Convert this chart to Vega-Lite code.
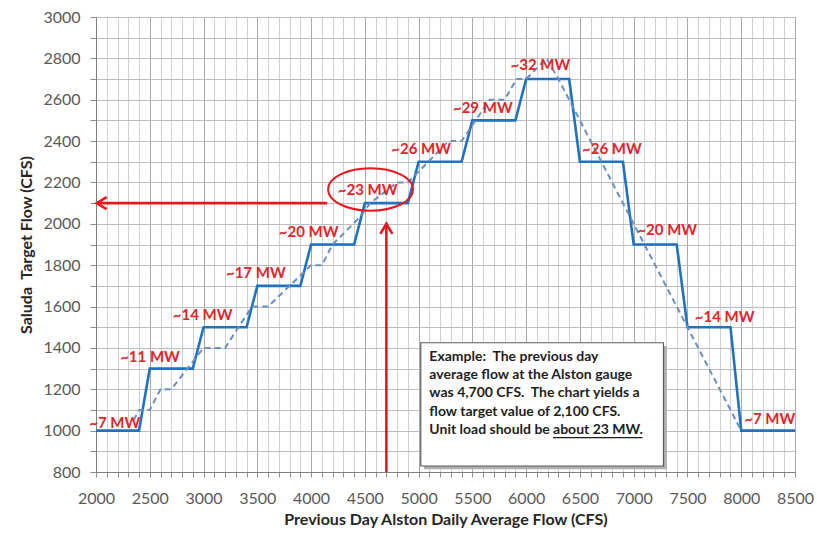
{
  "$schema": "https://vega.github.io/schema/vega-lite/v6.json",
  "width": 699,
  "height": 455,
  "autosize": "none",
  "padding": {"left": 96, "top": 17, "right": 22, "bottom": 74},
  "background": "white",
  "config": {"view": {"stroke": "#a6a6a6", "strokeWidth": 1}, "font": "Lato"},
  "datasets": {
    "step": [
      {"x":2000,"y":1000},{"x":2400,"y":1000},{"x":2500,"y":1300},{"x":2900,"y":1300},{"x":3000,"y":1500},{"x":3400,"y":1500},{"x":3500,"y":1700},{"x":3900,"y":1700},{"x":4000,"y":1900},{"x":4400,"y":1900},{"x":4500,"y":2100},{"x":4900,"y":2100},{"x":5000,"y":2300},{"x":5400,"y":2300},{"x":5500,"y":2500},{"x":5900,"y":2500},{"x":6000,"y":2700},{"x":6400,"y":2700},{"x":6500,"y":2300},{"x":6900,"y":2300},{"x":7000,"y":1900},{"x":7400,"y":1900},{"x":7500,"y":1500},{"x":7900,"y":1500},{"x":8000,"y":1000},{"x":8500,"y":1000}
    ],
    "trend": [
      {"x":2350,"y":1050},{"x":2400,"y":1100},{"x":2500,"y":1100},{"x":2600,"y":1200},{"x":2700,"y":1200},{"x":3000,"y":1400},{"x":3200,"y":1400},{"x":3450,"y":1600},{"x":3600,"y":1600},{"x":4000,"y":1800},{"x":4100,"y":1800},{"x":4200,"y":1900},{"x":4450,"y":2030},{"x":4550,"y":2100},{"x":4800,"y":2200},{"x":4900,"y":2200},{"x":5280,"y":2400},{"x":5400,"y":2400},{"x":5660,"y":2600},{"x":5800,"y":2600},{"x":5910,"y":2700},{"x":6000,"y":2700},{"x":6190,"y":2800},{"x":6300,"y":2700},{"x":8000,"y":1000}
    ],
    "labels": [
      {"x":2174,"y":1038,"t":"~7 MW"},
      {"x":2502,"y":1357,"t":"~11 MW"},
      {"x":2991,"y":1559,"t":"~14 MW"},
      {"x":3486,"y":1761,"t":"~17 MW"},
      {"x":3977,"y":1962,"t":"~20 MW"},
      {"x":4526,"y":2163,"t":"~23 MW"},
      {"x":5023,"y":2360,"t":"~26 MW"},
      {"x":5597,"y":2558,"t":"~29 MW"},
      {"x":6133,"y":2768,"t":"~32 MW"},
      {"x":6797,"y":2360,"t":"~26 MW"},
      {"x":7312,"y":1970,"t":"~20 MW"},
      {"x":7846,"y":1551,"t":"~14 MW"},
      {"x":8265,"y":1055,"t":"~7 MW"}
    ],
    "arrows": [
      {"x":4150,"x2":2010,"y":2100,"y2":2100},
      {"x":4700,"x2":4700,"y":800,"y2":2005}
    ],
    "heads": [
      {"x":2006,"y":2100,"dir":"left"},
      {"x":4700,"y":2000,"dir":"up"}
    ],
    "ellipse": [{"x":4553,"y":2166}],
    "box": [{"x":5020,"x2":7277,"y":829,"y2":1425}],
    "shadow": [{"x":5050,"x2":7307,"y":813,"y2":1409}],
    "note": [
      {"x":5100,"y":1358,"t":"Example:\u00a0 The previous day"},
      {"x":5100,"y":1270,"t":"average flow at the Alston gauge"},
      {"x":5100,"y":1181,"t":"was 4,700 CFS.\u00a0 The chart yields a"},
      {"x":5100,"y":1092,"t":"flow target value of 2,100 CFS."},
      {"x":5100,"y":1003,"t":"Unit load should be"},
      {"x":6250,"y":1003,"t":"about 23 MW."}
    ],
    "underline": [{"x":6250,"x2":7082,"y":966}]
  },
  "encoding": {
    "x": {
      "field": "x", "type": "quantitative",
      "scale": {"domain": [2000, 8500], "nice": false, "zero": false},
      "axis": {
        "values": [2000,2100,2200,2300,2400,2500,2600,2700,2800,2900,3000,3100,3200,3300,3400,3500,3600,3700,3800,3900,4000,4100,4200,4300,4400,4500,4600,4700,4800,4900,5000,5100,5200,5300,5400,5500,5600,5700,5800,5900,6000,6100,6200,6300,6400,6500,6600,6700,6800,6900,7000,7100,7200,7300,7400,7500,7600,7700,7800,7900,8000,8100,8200,8300,8400,8500],
        "format": "d",
        "labelExpr": "datum.value % 500 === 0 ? datum.label : ''",
        "labelOverlap": false,
        "labelFlush": false,
        "labelFont": "Lato", "labelFontSize": 16, "labelColor": "#595959", "labelPadding": 13,
        "grid": true,
        "gridColor": {"condition": {"test": "datum.value % 500 === 0", "value": "#a8a8a8"}, "value": "#d0d0d0"},
        "gridWidth": 1,
        "tickColor": "#8c8c8c", "tickSize": 5,
        "domainColor": "#7f7f7f",
        "title": "Previous Day Alston Daily Average Flow (CFS)",
        "titleFont": "Lato", "titleFontSize": 16, "titleFontWeight": "bold", "titleColor": "#262626", "titlePadding": 5
      }
    },
    "y": {
      "field": "y", "type": "quantitative",
      "scale": {"domain": [800, 3000], "nice": false, "zero": false},
      "axis": {
        "values": [800,900,1000,1100,1200,1300,1400,1500,1600,1700,1800,1900,2000,2100,2200,2300,2400,2500,2600,2700,2800,2900,3000],
        "format": "d",
        "labelExpr": "datum.value % 200 === 0 ? datum.label : ''",
        "labelOverlap": false,
        "labelFlush": false,
        "labelFont": "Lato", "labelFontSize": 16, "labelColor": "#595959", "labelPadding": 10,
        "grid": true, "gridColor": "#bdbdbd", "gridWidth": 1,
        "tickColor": "#8c8c8c", "tickSize": 6,
        "domainColor": "#7f7f7f",
        "title": "Saluda\u00a0 Target Flow (CFS)",
        "titleFont": "Lato", "titleFontSize": 16, "titleFontWeight": "bold", "titleColor": "#262626", "titlePadding": 8
      }
    }
  },
  "layer": [
    {
      "data": {"name": "step"},
      "mark": {"type": "line", "color": "#1f72c2", "strokeWidth": 2.6}
    },
    {
      "data": {"name": "trend"},
      "mark": {"type": "line", "color": "#6a8fc0", "strokeWidth": 2, "strokeDash": [6, 4]}
    },
    {
      "data": {"name": "shadow"},
      "mark": {"type": "rect", "fill": "#b0b0b0"},
      "encoding": {"x2": {"field": "x2"}, "y2": {"field": "y2"}}
    },
    {
      "data": {"name": "box"},
      "mark": {"type": "rect", "fill": "white", "stroke": "#5a5a5a", "strokeWidth": 1.2},
      "encoding": {"x2": {"field": "x2"}, "y2": {"field": "y2"}}
    },
    {
      "data": {"name": "note"},
      "mark": {"type": "text", "align": "left", "baseline": "middle", "font": "Lato", "fontSize": 14, "fontWeight": "bold", "color": "#1e1e1e"},
      "encoding": {"text": {"field": "t"}}
    },
    {
      "data": {"name": "underline"},
      "mark": {"type": "rule", "color": "#1e1e1e", "strokeWidth": 1.3},
      "encoding": {"x2": {"field": "x2"}}
    },
    {
      "data": {"name": "arrows"},
      "mark": {"type": "rule", "color": "#e8161e", "strokeWidth": 2.6},
      "encoding": {"x2": {"field": "x2"}, "y2": {"field": "y2"}}
    },
    {
      "data": {"name": "heads"},
      "mark": {"type": "point", "filled": false, "stroke": "#e8161e", "strokeWidth": 2.6, "size": 400, "opacity": 1},
      "encoding": {
        "shape": {"field": "dir", "type": "nominal", "scale": {"domain": ["left", "up"], "range": ["M 1 -0.6 L 0 0 L 1 0.6", "M -0.6 1 L 0 0 L 0.6 1"]}, "legend": null}
      }
    },
    {
      "data": {"name": "ellipse"},
      "mark": {"type": "point", "filled": false, "stroke": "#e8161e", "strokeWidth": 2, "size": 7225, "opacity": 1, "shape": "M -1 0 A 1 0.5 0 1 0 1 0 A 1 0.5 0 1 0 -1 0 Z"}
    },
    {
      "data": {"name": "labels"},
      "mark": {"type": "text", "align": "center", "baseline": "middle", "font": "Lato", "fontSize": 15, "fontWeight": "bold", "color": "#e3232a"},
      "encoding": {"text": {"field": "t"}}
    }
  ]
}
